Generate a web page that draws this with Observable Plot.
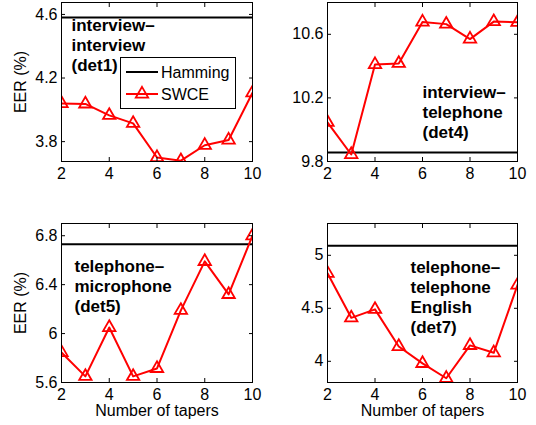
<!DOCTYPE html>
<html><head><meta charset="utf-8">
<script src="https://cdn.jsdelivr.net/npm/d3@7"></script>
<script src="https://cdn.jsdelivr.net/npm/@observablehq/plot@0.6"></script>
<style>
body{margin:0;background:#fff;}
#chart{position:relative;width:536px;height:425px;font-family:"Liberation Sans",Arial,sans-serif;background:#fff;}
.panel{position:absolute;}
.panel svg{overflow:visible;}
#legend{position:absolute;left:120px;top:57px;}
</style></head><body><div id="chart"></div>
<script>
const tapers = [2, 3, 4, 5, 6, 7, 8, 9, 10];
const xTicks = [2, 4, 6, 8, 10];
const seriesNames = ["Hamming", "SWCE"];

const det1Swce = [4.04, 4.037, 3.965, 3.915, 3.70, 3.68, 3.777, 3.81, 4.107];
const det1Hamming = 4.58;
const det1YTicks = [3.8, 4.2, 4.6];
const det1YDomain = [3.675, 4.675];
const det1Title = "interview–\ninterview\n(det1)";

const det4Swce = [10.046, 9.844, 10.41, 10.417, 10.677, 10.664, 10.57, 10.68, 10.675];
const det4Hamming = 9.856;
const det4YTicks = [9.8, 10.2, 10.6];
const det4YDomain = [9.8, 10.8];
const det4Title = "interview–\ntelephone\n(det4)";

const det5Swce = [5.845, 5.65, 6.05, 5.65, 5.715, 6.19, 6.59, 6.32, 6.8];
const det5Hamming = 6.73;
const det5YTicks = [5.6, 6, 6.4, 6.8];
const det5YDomain = [5.6, 6.9];
const det5Title = "telephone–\nmicrophone\n(det5)";

const det7Swce = [4.83, 4.41, 4.49, 4.14, 3.98, 3.84, 4.15, 4.08, 4.72];
const det7Hamming = 5.09;
const det7YTicks = [4, 4.5, 5];
const det7YDomain = [3.8, 5.3];
const det7Title = "telephone–\ntelephone\nEnglish\n(det7)";

const yLabelText = "EER (%)";
const xLabelText = "Number of tapers";

const FONT = '"Liberation Sans", Arial, Helvetica, sans-serif';
const RED = "#ff0000";
const fmt = d => String(d);

function panel(o) {
  const data = tapers.map((t, i) => ({t, v: o.swce[i]}));
  const plot = Plot.plot({
    width: 268, height: o.height,
    marginLeft: o.ml, marginRight: o.mr, marginTop: o.mt, marginBottom: o.mb,
    style: {fontFamily: FONT, fontSize: "16px", background: "transparent", color: "#000", overflow: "visible"},
    x: {domain: [2, 10]},
    y: {domain: o.yDomain},
    marks: [
      Plot.ruleY([o.hamming], {stroke: "#000", strokeWidth: 2}),
      Plot.line(data, {x: "t", y: "v", stroke: RED, strokeWidth: 2, clip: true}),
      Plot.dot(data, {x: "t", y: "v", symbol: "triangle", r: 4.6, stroke: RED, strokeWidth: 1.8, fill: "none", clip: true}),
      Plot.text([o.title], {text: d => d, frameAnchor: "top-left", textAnchor: "start", lineAnchor: "top",
        dx: o.tdx, dy: o.tdy, fontSize: 17, fontWeight: "bold", lineHeight: 1.18, fill: "#000"}),
      Plot.frame({stroke: "#000", strokeWidth: 1}),
      Plot.axisX(xTicks, {anchor: "bottom", tickSize: 0, tickPadding: 6, tickFormat: fmt,
        label: o.xLabel ?? null, labelAnchor: "center", labelArrow: "none", labelOffset: 33}),
      Plot.axisX(xTicks, {anchor: "bottom", tickSize: 4, dy: -4, fill: "none", label: null}),
      Plot.axisX(xTicks, {anchor: "top", tickSize: 4, dy: 4, fill: "none", label: null}),
      Plot.axisY(o.yTicks, {anchor: "left", tickSize: 0, tickPadding: 4, tickFormat: fmt,
        label: o.yLabel ?? null, labelAnchor: "center", labelArrow: "none", labelOffset: 47}),
      Plot.axisY(o.yTicks, {anchor: "left", tickSize: 4, dx: 4, fill: "none", label: null}),
      Plot.axisY(o.yTicks, {anchor: "right", tickSize: 4, dx: -4, fill: "none", label: null})
    ]
  });
  const div = document.createElement("div");
  div.className = "panel";
  div.style.left = o.left + "px";
  div.style.top = o.top + "px";
  div.appendChild(plot);
  document.getElementById("chart").appendChild(div);
}

panel({swce: det1Swce, hamming: det1Hamming, yDomain: det1YDomain, yTicks: det1YTicks, title: det1Title,
  tdx: 10, tdy: 14, left: 0, top: 0, height: 210, ml: 61, mr: 16, mt: 2, mb: 49, yLabel: yLabelText});
panel({swce: det4Swce, hamming: det4Hamming, yDomain: det4YDomain, yTicks: det4YTicks, title: det4Title,
  tdx: 95, tdy: 81, left: 268, top: 0, height: 210, ml: 59, mr: 19, mt: 2, mb: 49});
panel({swce: det5Swce, hamming: det5Hamming, yDomain: det5YDomain, yTicks: det5YTicks, title: det5Title,
  tdx: 13, tdy: 34, left: 0, top: 210, height: 215, ml: 61, mr: 16, mt: 13, mb: 43, yLabel: yLabelText, xLabel: xLabelText});
panel({swce: det7Swce, hamming: det7Hamming, yDomain: det7YDomain, yTicks: det7YTicks, title: det7Title,
  tdx: 83, tdy: 35, left: 268, top: 210, height: 215, ml: 59, mr: 19, mt: 13, mb: 43, xLabel: xLabelText});

// legend
const lg = d3.select("#chart").append("svg").attr("id", "legend")
  .attr("width", 117).attr("height", 53).style("font-family", FONT);
lg.append("rect").attr("x", 0.5).attr("y", 0.5).attr("width", 115).attr("height", 51)
  .attr("fill", "#fff").attr("stroke", "#000");
const rowsY = [15, 37];
seriesNames.forEach((name, i) => {
  const y = rowsY[i];
  const col = i === 0 ? "#000" : RED;
  lg.append("line").attr("x1", 6).attr("x2", 38).attr("y1", y).attr("y2", y)
    .attr("stroke", col).attr("stroke-width", 2);
  if (i === 1) {
    lg.append("path").attr("d", d3.symbol(d3.symbolTriangle, Math.PI * 4.6 * 4.6)())
      .attr("transform", `translate(22,${y})`).attr("fill", "none").attr("stroke", RED).attr("stroke-width", 1.8);
  }
  lg.append("text").attr("x", 41).attr("y", y).attr("dy", "0.36em").attr("font-size", 16).text(name);
});
</script></body></html>
